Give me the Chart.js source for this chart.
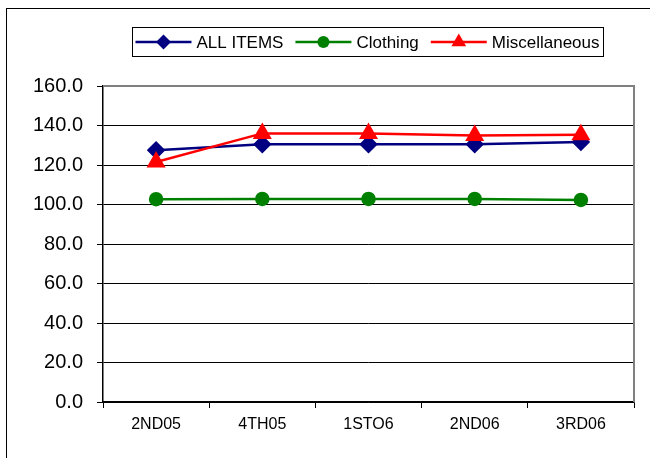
<!DOCTYPE html>
<html>
<head>
<meta charset="utf-8">
<script src="https://cdn.jsdelivr.net/npm/chart.js@4"></script>
<style>
html,body{margin:0;padding:0;background:#fff;}
#wrap{width:650px;height:458px;position:relative;}
</style>
</head>
<body>
<div id="wrap"><canvas id="c" width="650" height="458"></canvas></div>
<script>
const categories = ["2ND05", "4TH05", "1STO6", "2ND06", "3RD06"];
const allItems = [127.5, 130.5, 130.5, 130.5, 131.7];
const clothing = [102.7, 102.8, 102.8, 102.8, 102.3];
const misc = [121.5, 136.0, 135.9, 135.0, 135.3];
const seriesNames = ["ALL ITEMS", "Clothing", "Miscellaneous"];
const yTicks = [0, 20, 40, 60, 80, 100, 120, 140, 160];

const FONT = "'Liberation Sans', Arial, sans-serif";

function drawMarker(ctx, style, r, x, y) {
  if (style === 'circle') {
    ctx.arc(x, y, r, 0, Math.PI * 2);
  } else if (style === 'rectRot') {
    ctx.moveTo(x, y - r); ctx.lineTo(x + r, y); ctx.lineTo(x, y + r); ctx.lineTo(x - r, y); ctx.closePath();
  } else if (style === 'triangle') {
    ctx.moveTo(x, y - r); ctx.lineTo(x + r * 0.866, y + r * 0.5); ctx.lineTo(x - r * 0.866, y + r * 0.5); ctx.closePath();
  }
}

const framePlugin = {
  id: 'frame',
  beforeDraw(chart) {
    const ctx = chart.ctx;
    ctx.save();
    ctx.fillStyle = '#fff';
    ctx.fillRect(0, 0, chart.width, chart.height);
    ctx.strokeStyle = '#000';
    ctx.lineWidth = 1;
    ctx.strokeRect(6.5, 8.5, 700, 500);
    ctx.restore();
  },
  afterDraw(chart) {
    const ctx = chart.ctx;
    const a = chart.chartArea;
    ctx.save();
    ctx.strokeStyle = '#808080';
    ctx.lineWidth = 2;
    ctx.beginPath();
    ctx.moveTo(a.left, a.top);
    ctx.lineTo(a.right, a.top);
    ctx.lineTo(a.right, a.bottom);
    ctx.stroke();
    // legend
    const ds = chart.data.datasets;
    ctx.font = "17px " + FONT;
    const lineLen = 56, gapText = 5, gapItem = 12;
    const widths = ds.map(d => lineLen + gapText + ctx.measureText(d.label).width);
    const total = widths.reduce((s, w) => s + w, 0) + gapItem * (ds.length - 1);
    const boxL = 132, boxR = 603, boxT = 27, boxB = 56;
    const cx = (boxL + boxR) / 2;
    ctx.strokeStyle = '#000';
    ctx.lineWidth = 1;
    ctx.strokeRect(boxL + 0.5, boxT + 0.5, boxR - boxL, boxB - boxT);
    let x = cx - total / 2;
    const y = (boxT + boxB) / 2 + 0.5;
    ds.forEach((d, i) => {
      ctx.strokeStyle = d.borderColor;
      ctx.lineWidth = d.borderWidth;
      ctx.beginPath();
      ctx.moveTo(x, y);
      ctx.lineTo(x + lineLen, y);
      ctx.stroke();
      ctx.fillStyle = d.pointBackgroundColor;
      ctx.beginPath();
      drawMarker(ctx, d.pointStyle, d.pointRadius, x + lineLen / 2, y);
      ctx.fill();
      ctx.fillStyle = '#000';
      ctx.textAlign = 'left';
      ctx.textBaseline = 'middle';
      ctx.fillText(d.label, x + lineLen + gapText, y + 1);
      x += widths[i] + gapItem;
    });
    ctx.restore();
  }
};

new Chart(document.getElementById('c'), {
  type: 'line',
  data: {
    labels: categories,
    datasets: [
      { label: seriesNames[0], data: allItems, borderColor: '#000080', backgroundColor: '#000080',
        pointBackgroundColor: '#000080', pointBorderColor: '#000080', pointStyle: 'rectRot',
        pointRadius: 7.5, borderWidth: 2.5, order: 2, tension: 0 },
      { label: seriesNames[1], data: clothing, borderColor: '#008000', backgroundColor: '#008000',
        pointBackgroundColor: '#008000', pointBorderColor: '#008000', pointStyle: 'circle',
        pointRadius: 6, borderWidth: 2.5, order: 1, tension: 0 },
      { label: seriesNames[2], data: misc, borderColor: '#FF0000', backgroundColor: '#FF0000',
        pointBackgroundColor: '#FF0000', pointBorderColor: '#FF0000', pointStyle: 'triangle',
        pointRadius: 8.5, borderWidth: 2.5, order: 0, tension: 0 }
    ]
  },
  options: {
    responsive: false,
    animation: false,
    devicePixelRatio: 1,
    layout: { padding: { left: 0, right: 16, top: 86, bottom: 0 } },
    plugins: { legend: { display: false }, tooltip: { enabled: false } },
    scales: {
      x: {
        offset: true,
        afterFit(s) { s.height = 56; },
        grid: { offset: true, drawOnChartArea: false, drawTicks: true, tickLength: 6, color: '#000', lineWidth: 1 },
        border: { color: '#000', width: 1.5 },
        ticks: { color: '#000', font: { family: FONT, size: 16 }, padding: 7, maxRotation: 0 }
      },
      y: {
        min: 0, max: 160,
        afterFit(s) { s.width = 103; },
        afterBuildTicks(s) { s.ticks = yTicks.map(v => ({ value: v })); },
        grid: { color: (c) => (c.tick && c.tick.value === 160) ? '#808080' : '#000', lineWidth: 1, tickLength: 6, drawTicks: true, tickColor: '#000' },
        border: { color: '#000', width: 1.5 },
        ticks: { color: '#000', font: { family: FONT, size: 20 }, padding: 14,
          callback: (v) => Number(v).toFixed(1) }
      }
    }
  },
  plugins: [framePlugin]
});
</script>
</body>
</html>
